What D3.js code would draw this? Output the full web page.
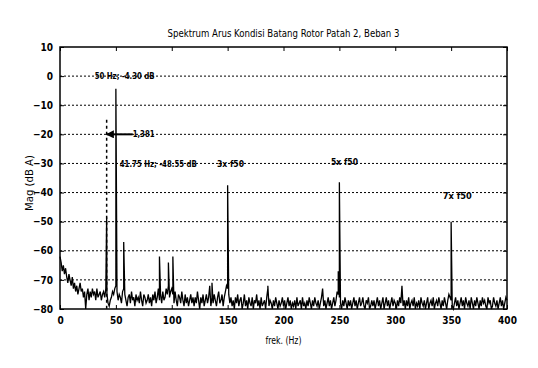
<!DOCTYPE html>
<html>
<head>
<meta charset="utf-8">
<script src="https://cdn.jsdelivr.net/npm/d3@7"></script>
<style>
  html, body { margin: 0; padding: 0; background: #fff; }
  svg { display: block; }
  text { font-family: 'DejaVu Sans Condensed', 'Liberation Sans', sans-serif; fill: #000; }
</style>
</head>
<body>
<div id="chart"></div>
<script>
// Spectrum noise floor, sampled every 1 Hz from 0 Hz (dB A)
const noiseStartHz = 0;
const noiseStepHz = 1;
const noiseDb = [
  -62, -64, -67, -65, -68, -66, -69, -71, -68, -70,
  -72, -69, -73, -71, -74, -72, -75, -73, -71, -74,
  -73, -76, -74, -80, -75, -73, -77, -74, -76, -73,
  -75, -74, -77, -73, -76, -75, -74, -77, -75, -74,
  -76, -73, -75, -78, -79, -77, -76, -74, -75, -73,
  -72, -74, -77, -75, -76, -78, -74, -73, -75, -77,
  -79, -76, -75, -78, -74, -77, -76, -79, -75, -77,
  -76, -78, -74, -77, -79, -75, -76, -78, -77, -75,
  -78, -76, -79, -75, -77, -74, -78, -76, -73, -77,
  -75, -78, -74, -77, -76, -73, -75, -72, -76, -74,
  -73, -75, -78, -74, -77, -79, -75, -76, -78, -74,
  -77, -79, -75, -78, -76, -79, -77, -75, -78, -76,
  -79, -76, -78, -74, -77, -80, -76, -78, -75, -79,
  -77, -75, -78, -76, -72, -79, -76, -78, -75, -77,
  -79, -76, -74, -78, -77, -75, -79, -76, -74, -72,
  -73, -75, -78, -76, -79, -77, -80, -76, -78, -75,
  -79, -77, -76, -80, -78, -75, -79, -77, -80, -76,
  -78, -79, -76, -80, -77, -78, -75, -79, -77, -80,
  -76, -79, -78, -77, -80, -76, -73, -79, -77, -78,
  -80, -77, -79, -76, -78, -80, -77, -79, -78, -76,
  -79, -77, -80, -78, -76, -79, -77, -80, -78, -79,
  -77, -80, -76, -79, -78, -77, -80, -76, -79, -78,
  -80, -77, -79, -76, -78, -80, -77, -79, -76, -78,
  -79, -77, -80, -78, -76, -73, -79, -77, -80, -78,
  -76, -79, -77, -80, -78, -76, -79, -77, -74, -75,
  -76, -78, -80, -77, -79, -76, -78, -80, -77, -79,
  -77, -80, -78, -76, -79, -77, -80, -78, -76, -79,
  -78, -76, -79, -80, -77, -78, -76, -80, -79, -77,
  -79, -77, -80, -78, -76, -79, -77, -80, -78, -76,
  -80, -78, -76, -79, -77, -80, -78, -76, -79, -77,
  -78, -80, -77, -79, -76, -78, -72, -79, -77, -80,
  -77, -79, -76, -80, -78, -77, -79, -76, -80, -78,
  -79, -77, -80, -76, -78, -79, -77, -80, -78, -76,
  -80, -78, -77, -79, -76, -80, -78, -77, -79, -76,
  -78, -80, -77, -79, -76, -78, -80, -77, -75, -76,
  -77, -79, -80, -78, -76, -79, -77, -80, -78, -76,
  -79, -77, -80, -76, -78, -79, -77, -80, -76, -78,
  -80, -77, -79, -76, -78, -80, -77, -79, -76, -78,
  -77, -79, -80, -76, -78, -77, -80, -79, -76, -78,
  -79, -77, -80, -78, -76, -79, -77, -80, -78, -76, -77
];

// Spectral peaks (harmonics and sidebands)
const peakHz = [41.75, 50, 57, 89, 97, 101, 136, 150, 186, 249, 250, 306, 350];
const peakDb = [-48.55, -4.3, -57, -62, -64, -62, -71, -37.5, -72, -67, -36.5, -72, -50];

// Axis ticks
const xTicks = [0, 50, 100, 150, 200, 250, 300, 350, 400];
const yTicks = [10, 0, -10, -20, -30, -40, -50, -60, -70, -80];

// Data cursor / annotations
const markerHz = 41.75;
const markerTopDb = -15;
const arrowFromHz = 65;
const arrowToHz = 41.75;
const arrowDb = -20;
const labelText = ['50 Hz; -4.30 dB', '1,381', '41.75 Hz; -48.55 dB', '3x f50', '5x f50', '7x f50'];
const labelHz = [31, 65, 53.5, 140.5, 242.5, 342.5];
const labelDb = [0, -20, -30, -30, -29.5, -41];
const labelWidth = [60, 22, 77, 27, 27, 29];

const W = 538, H = 368;
const margin = { top: 47, right: 31, bottom: 59, left: 60 };
const innerW = W - margin.left - margin.right;
const innerH = H - margin.top - margin.bottom;

const svg = d3.select('#chart').append('svg')
  .attr('width', W)
  .attr('height', H);

const g = svg.append('g')
  .attr('transform', `translate(${margin.left},${margin.top})`);

const x = d3.scaleLinear().domain([0, 400]).range([0, innerW]);
const y = d3.scaleLinear().domain([-80, 10]).range([innerH, 0]);

// Horizontal dotted grid
g.selectAll('.grid')
  .data(yTicks.filter(d => d > -80 && d < 10))
  .enter().append('line')
  .attr('x1', 0)
  .attr('x2', innerW)
  .attr('y1', d => y(d))
  .attr('y2', d => y(d))
  .attr('stroke', '#000')
  .attr('stroke-width', 1)
  .attr('stroke-dasharray', '2,2');

// Merge noise floor and peaks into one series
const series = noiseDb.map((v, i) => [noiseStartHz + i * noiseStepHz, v]);
peakHz.forEach((f, i) => series.push([f, peakDb[i]]));
series.sort((a, b) => a[0] - b[0]);

const line = d3.line()
  .x(d => x(d[0]))
  .y(d => y(d[1]));

g.append('path')
  .datum(series)
  .attr('fill', 'none')
  .attr('stroke', '#000')
  .attr('stroke-width', 1.3)
  .attr('d', line);

// Dashed cursor line at 41.75 Hz
g.append('line')
  .attr('x1', x(markerHz))
  .attr('x2', x(markerHz))
  .attr('y1', y(markerTopDb))
  .attr('y2', y(-80))
  .attr('stroke', '#000')
  .attr('stroke-width', 1.5)
  .attr('stroke-dasharray', '3,3');

// Arrow
svg.append('defs').append('marker')
  .attr('id', 'arrowhead')
  .attr('viewBox', '0 0 10 10')
  .attr('refX', 9)
  .attr('refY', 5)
  .attr('markerWidth', 4)
  .attr('markerHeight', 4)
  .attr('orient', 'auto')
  .append('path')
  .attr('d', 'M0,0 L10,5 L0,10 Z')
  .attr('fill', '#000');

g.append('line')
  .attr('x1', x(arrowFromHz))
  .attr('x2', x(arrowToHz))
  .attr('y1', y(arrowDb))
  .attr('y2', y(arrowDb))
  .attr('stroke', '#000')
  .attr('stroke-width', 2)
  .attr('marker-end', 'url(#arrowhead)');

// Annotation labels
g.selectAll('.ann')
  .data(labelText)
  .enter().append('text')
  .attr('x', (d, i) => x(labelHz[i]))
  .attr('y', (d, i) => y(labelDb[i]))
  .attr('dy', '0.35em')
  .attr('font-size', '9px')
  .attr('font-weight', 'bold')
  .attr('textLength', (d, i) => labelWidth[i])
  .attr('lengthAdjust', 'spacingAndGlyphs')
  .text(d => d);

// Axes with inward ticks, MATLAB style
const tickLen = 4;
const xAxisB = d3.axisBottom(x).tickValues(xTicks).tickSizeInner(-tickLen).tickSizeOuter(0).tickPadding(8);
const xAxisT = d3.axisTop(x).tickValues(xTicks).tickSizeInner(-tickLen).tickSizeOuter(0).tickFormat('');
const yAxisL = d3.axisLeft(y).tickValues(yTicks).tickSizeInner(-tickLen).tickSizeOuter(0).tickPadding(7);
const yAxisR = d3.axisRight(y).tickValues(yTicks).tickSizeInner(-tickLen).tickSizeOuter(0).tickFormat('');

const gxB = g.append('g').attr('transform', `translate(0,${innerH})`).call(xAxisB);
g.append('g').call(xAxisT);
const gyL = g.append('g').call(yAxisL);
g.append('g').attr('transform', `translate(${innerW},0)`).call(yAxisR);

g.selectAll('.domain').remove();
g.selectAll('.tick line').attr('stroke', '#000').attr('stroke-width', 1);
[gxB, gyL].forEach(ax => ax.selectAll('text')
  .attr('font-size', '10px')
  .attr('font-weight', 'bold')
  .attr('font-family', "'DejaVu Sans Condensed', sans-serif")
  .attr('fill', '#000'));

// Box
g.append('rect')
  .attr('x', 0)
  .attr('y', 0)
  .attr('width', innerW)
  .attr('height', innerH)
  .attr('fill', 'none')
  .attr('stroke', '#000')
  .attr('stroke-width', 1.5);

// Title and axis labels
svg.append('text')
  .attr('x', margin.left + innerW / 2)
  .attr('y', 37)
  .attr('text-anchor', 'middle')
  .attr('font-size', '11px')
  .attr('textLength', 232)
  .attr('lengthAdjust', 'spacingAndGlyphs')
  .text('Spektrum Arus Kondisi Batang Rotor Patah 2, Beban 3');

svg.append('text')
  .attr('x', margin.left + innerW / 2)
  .attr('y', 344)
  .attr('text-anchor', 'middle')
  .attr('font-size', '11px')
  .attr('textLength', 36)
  .attr('lengthAdjust', 'spacingAndGlyphs')
  .text('frek. (Hz)');

svg.append('text')
  .attr('transform', `translate(33,${margin.top + innerH / 2 + 5}) rotate(-90)`)
  .attr('text-anchor', 'middle')
  .attr('font-size', '11px')
  .attr('textLength', 56)
  .attr('lengthAdjust', 'spacingAndGlyphs')
  .text('Mag (dB A)');
</script>
</body>
</html>
